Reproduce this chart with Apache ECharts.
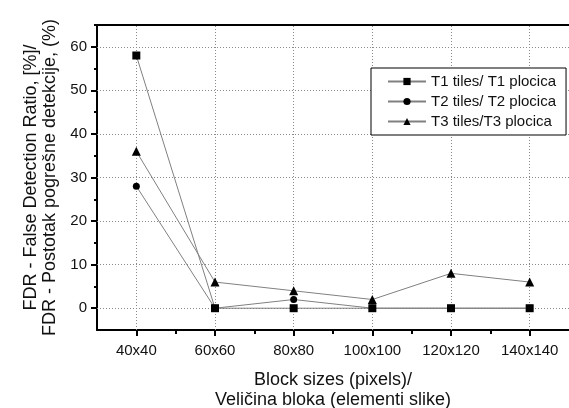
<!DOCTYPE html>
<html><head><meta charset="utf-8">
<script src="https://cdn.jsdelivr.net/npm/echarts@6/dist/echarts.min.js"></script>
<style>html,body{margin:0;padding:0;background:#fff}#c{width:569px;height:408px}</style>
</head><body><div id="c"></div>
<script>
const categories = ['40x40','60x60','80x80','100x100','120x120','140x140'];
const t1 = [58, 0, 0, 0, 0, 0];
const t2 = [28, 0, 2, 0, 0, 0];
const t3 = [36, 6, 4, 2, 8, 6];
const yMajor = [0, 10, 20, 30, 40, 50, 60];
const yMinor = [5, 15, 25, 35, 45, 55, 65];
const xMajor = [0, 1, 2, 3, 4, 5];
const xMinor = [0.5, 1.5, 2.5, 3.5, 4.5];

const font = 'Liberation Sans, Arial, sans-serif';
const toPts = arr => arr.map((v, i) => [i, v]);
const lineStyle = {color: '#808080', width: 1};
const axisLineStyle = {color: '#000', width: 2};
const chart = echarts.init(document.getElementById('c'));
const xBase = {type: 'value', min: -0.5, max: 5.5, gridIndex: 0};
const yBase = {type: 'value', min: -5, max: 65, gridIndex: 0};
const gridLines = yMajor.map(v => ({yAxis: v})).concat(xMajor.map(v => ({xAxis: v})));
chart.setOption({
  animation: false,
  grid: {left: 97, top: 25, right: 0, bottom: 78, containLabel: false, outerBoundsMode: 'none'},
  xAxis: [
    Object.assign({}, xBase, {
      position: 'bottom',
      axisLine: {show: true, onZero: false, lineStyle: axisLineStyle},
      axisTick: {show: true, length: 6, inside: false, customValues: xMajor, lineStyle: axisLineStyle},
      axisLabel: {show: true, customValues: xMajor, margin: 13, color: '#111', fontSize: 15, fontFamily: font,
        formatter: v => categories[Math.round(v)] || ''},
      splitLine: {show: false},
      name: 'Block sizes (pixels)/\nVeličina bloka (elementi slike)',
      nameLocation: 'middle', nameGap: 40,
      nameTextStyle: {color: '#111', fontSize: 18, fontFamily: font, lineHeight: 20}
    }),
    Object.assign({}, xBase, {
      position: 'bottom',
      axisLine: {show: false, onZero: false},
      axisTick: {show: true, length: 4, customValues: xMinor, lineStyle: axisLineStyle},
      axisLabel: {show: false},
      splitLine: {show: false}
    }),
    Object.assign({}, xBase, {
      position: 'top',
      axisLine: {show: true, onZero: false, lineStyle: axisLineStyle},
      axisTick: {show: false}, axisLabel: {show: false}, splitLine: {show: false}
    })
  ],
  yAxis: [
    Object.assign({}, yBase, {
      position: 'left',
      axisLine: {show: true, onZero: false, lineStyle: axisLineStyle},
      axisTick: {show: true, length: 6, customValues: yMajor, lineStyle: axisLineStyle},
      axisLabel: {show: true, customValues: yMajor, margin: 10, color: '#111', fontSize: 15, fontFamily: font},
      splitLine: {show: false},
      name: 'FDR - False Detection Ratio, [%]/\nFDR - Postotak pogrešne detekcije, (%)',
      nameLocation: 'middle', nameGap: 34, nameRotate: 90,
      nameTextStyle: {color: '#111', fontSize: 18, fontFamily: font, lineHeight: 19}
    }),
    Object.assign({}, yBase, {
      position: 'left',
      axisLine: {show: false, onZero: false},
      axisTick: {show: true, length: 3, customValues: yMinor, lineStyle: axisLineStyle},
      axisLabel: {show: false}, splitLine: {show: false}
    })
  ],
  legend: {
    orient: 'vertical', left: 371, top: 68,
    padding: [6, 10, 6, 16], itemGap: 5, itemWidth: 38, itemHeight: 9,
    borderColor: '#000', borderWidth: 1, backgroundColor: '#fff',
    textStyle: {color: '#111', fontSize: 15, fontFamily: font},
    data: ['T1 tiles/ T1 plocica', 'T2 tiles/ T2 plocica', 'T3 tiles/T3 plocica']
  },
  series: [
    {name: 'grid', type: 'line', data: [], z: 1, silent: true,
      markLine: {silent: true, z: 1, symbol: ['none', 'none'], label: {show: false}, animation: false,
        lineStyle: {color: '#8a8a8a', type: [1, 2], width: 1}, emphasis: {disabled: true},
        data: gridLines}},
    {name: 'T1 tiles/ T1 plocica', type: 'line', data: toPts(t1), symbol: 'rect', symbolSize: 8,
      lineStyle: lineStyle, itemStyle: {color: '#000'}, z: 4},
    {name: 'T2 tiles/ T2 plocica', type: 'line', data: toPts(t2), symbol: 'circle', symbolSize: 7,
      lineStyle: lineStyle, itemStyle: {color: '#000'}, z: 3},
    {name: 'T3 tiles/T3 plocica', type: 'line', data: toPts(t3), symbol: 'triangle', symbolSize: 9,
      lineStyle: lineStyle, itemStyle: {color: '#000'}, z: 3}
  ]
});
</script></body></html>
